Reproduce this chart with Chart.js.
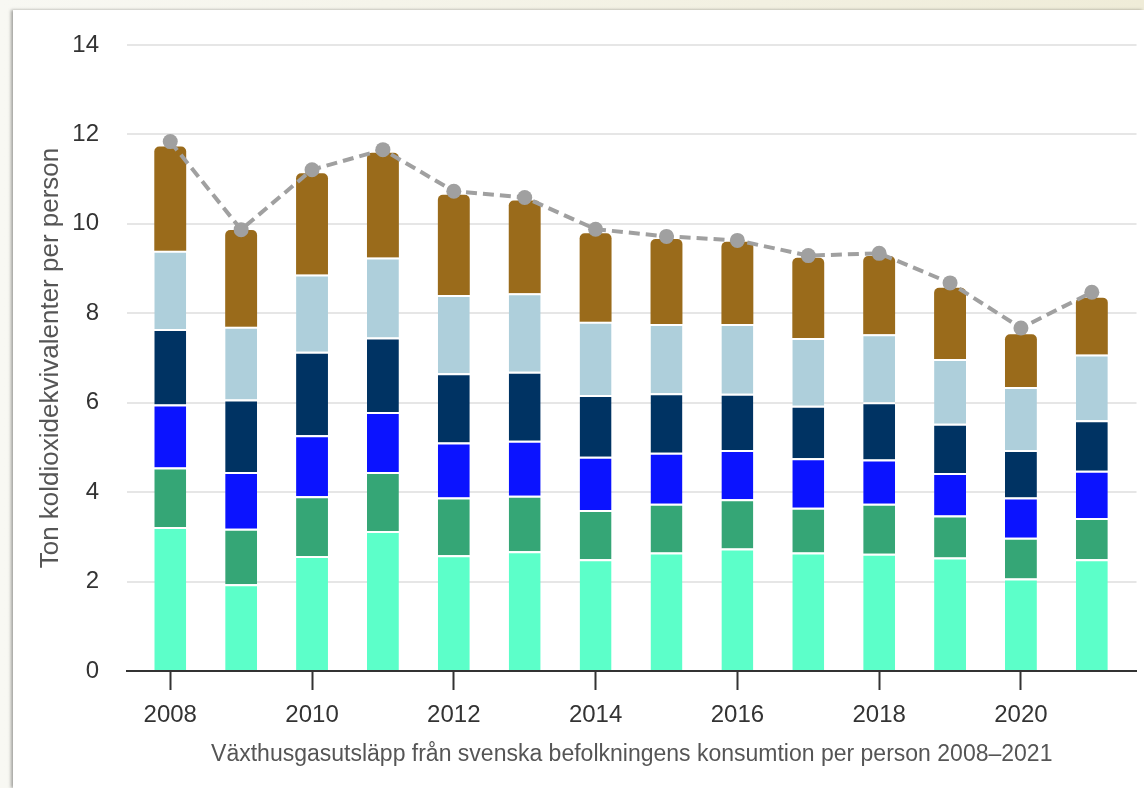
<!DOCTYPE html>
<html>
<head>
<meta charset="utf-8">
<script src="https://cdn.jsdelivr.net/npm/chart.js@4/dist/chart.umd.min.js"></script>
<style>
  html, body { margin: 0; padding: 0; }
  body {
    width: 1144px; height: 788px; overflow: hidden; position: relative;
    background: linear-gradient(to right, #f8f8f3, #efecd8);
  }
  .card {
    position: absolute; left: 13px; top: 10px; right: 0; bottom: 0;
    background: #fff;
    box-shadow: -2px 0 3px rgba(0, 0, 0, 0.35);
  }
  canvas { position: absolute; left: 0; top: 0; }
</style>
</head>
<body>
<div class="card"></div>
<canvas id="chart" width="1144" height="788"></canvas>
<script>
// år och värden (ton CO2e per person)
const years = [2008, 2009, 2010, 2011, 2012, 2013, 2014, 2015, 2016, 2017, 2018, 2019, 2020, 2021];
const xTicks = [2008, 2010, 2012, 2014, 2016, 2018, 2020];
const yTicks = [0, 2, 4, 6, 8, 10, 12, 14];

const seg1 = [3.22, 1.94, 2.57, 3.13, 2.59, 2.68, 2.50, 2.65, 2.74, 2.65, 2.62, 2.54, 2.07, 2.50];
const seg2 = [1.33, 1.24, 1.34, 1.32, 1.29, 1.24, 1.10, 1.09, 1.10, 1.00, 1.12, 0.94, 0.91, 0.92];
const seg3 = [1.41, 1.27, 1.36, 1.34, 1.23, 1.23, 1.19, 1.14, 1.10, 1.11, 0.99, 0.95, 0.90, 1.06];
const seg4 = [1.69, 1.62, 1.87, 1.67, 1.55, 1.54, 1.38, 1.33, 1.26, 1.17, 1.28, 1.10, 1.06, 1.13];
const seg5 = [1.75, 1.63, 1.73, 1.79, 1.75, 1.76, 1.64, 1.55, 1.56, 1.52, 1.52, 1.45, 1.41, 1.47];
const seg6 = [2.33, 2.16, 2.26, 2.34, 2.24, 2.07, 1.98, 1.90, 1.84, 1.79, 1.75, 1.59, 1.18, 1.27];
const totals = [11.84, 9.87, 11.21, 11.66, 10.73, 10.59, 9.88, 9.72, 9.63, 9.29, 9.34, 8.68, 7.67, 8.47];

const segColors = ['#5cffc9', '#35a676', '#0b13ff', '#003363', '#aecfdb', '#9a6b1b'];
const segNames = ['Del 1', 'Del 2', 'Del 3', 'Del 4', 'Del 5', 'Del 6'];
const segValues = [seg1, seg2, seg3, seg4, seg5, seg6];

const FONT = "'Liberation Sans', Arial, sans-serif";

function points(vals) {
    return years.map((y, i) => ({ x: y, y: vals[i] }));
}

const last = segValues.length - 1;
const barSets = segValues.map((vals, i) => ({
    type: 'bar',
    label: segNames[i],
    data: points(vals),
    backgroundColor: segColors[i],
    borderColor: '#ffffff',
    borderWidth: { top: i === last ? 0 : 2, bottom: 0, left: 0, right: 0 },
    borderSkipped: false,
    borderRadius: i === last ? { topLeft: 5, topRight: 5, bottomLeft: 0, bottomRight: 0 } : 0,
    barPercentage: 0.45,
    categoryPercentage: 1,
    stack: 'bars',
    order: 1
}));

const lineSet = {
    type: 'line',
    label: 'Totalt',
    data: points(totals),
    borderColor: '#a0a0a0',
    borderWidth: 4,
    borderDash: [11, 6],
    pointRadius: 7.5,
    pointBackgroundColor: '#a0a0a0',
    pointBorderWidth: 0,
    fill: false,
    tension: 0,
    stack: 'total',
    order: 0
};

new Chart(document.getElementById('chart'), {
    type: 'bar',
    data: { datasets: [lineSet, ...barSets] },
    options: {
        responsive: false,
        animation: false,
        devicePixelRatio: 1,
        layout: { padding: { left: 0, right: 7, top: 45, bottom: 0 } },
        plugins: { legend: { display: false }, tooltip: { enabled: false } },
        scales: {
            x: {
                type: 'linear',
                stacked: true,
                offset: false,
                min: 2007.39,
                max: 2021.63,
                afterBuildTicks: (scale) => { scale.ticks = xTicks.map(v => ({ value: v })); },
                afterFit: (scale) => { scale.height = 117; },
                grid: {
                    offset: false,
                    drawOnChartArea: false,
                    drawTicks: true,
                    tickLength: 19,
                    tickColor: '#333333',
                    tickWidth: 2
                },
                border: { display: true, color: '#333333', width: 2 },
                ticks: {
                    color: '#333333',
                    padding: 11,
                    maxRotation: 0,
                    font: { family: FONT, size: 24 },
                    callback: (v) => String(v)
                },
                title: {
                    display: true,
                    text: 'Växthusgasutsläpp från svenska befolkningens konsumtion per person 2008–2021',
                    color: '#555555',
                    font: { family: FONT, size: 23 },
                    padding: { top: 0, bottom: 20 }
                }
            },
            y: {
                stacked: true,
                min: 0,
                max: 14,
                afterBuildTicks: (scale) => { scale.ticks = yTicks.map(v => ({ value: v })); },
                afterFit: (scale) => { scale.width = 127; },
                grid: { color: '#e6e6e6', lineWidth: 2, drawTicks: false },
                border: { display: false },
                ticks: {
                    color: '#333333',
                    padding: 28,
                    font: { family: FONT, size: 24 }
                },
                title: {
                    display: true,
                    text: 'Ton koldioxidekvivalenter per person',
                    color: '#555555',
                    font: { family: FONT, size: 26 },
                    padding: { top: 35, bottom: 0 }
                }
            }
        }
    }
});
</script>
</body>
</html>
